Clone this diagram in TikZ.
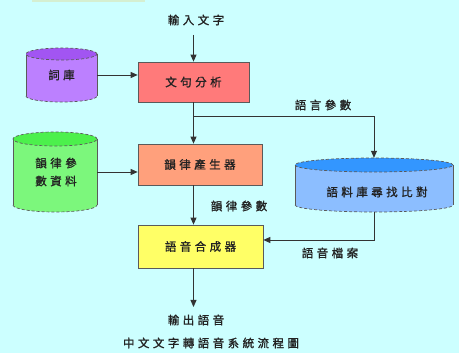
\documentclass[tikz,border=0pt]{standalone}
\usepackage{fontspec}
\setmainfont{Noto Sans CJK TC}[LetterSpace=30, FakeBold=1.2]
\usetikzlibrary{arrows.meta}
\definecolor{bg}{HTML}{CCFFFF}
\definecolor{boxred}{HTML}{FF7A7A}
\definecolor{boxorange}{HTML}{FFA07C}
\definecolor{boxyellow}{HTML}{FFFF66}
\definecolor{purpbody}{HTML}{BC80FF}
\definecolor{purptop}{HTML}{A255F2}
\definecolor{greenbody}{HTML}{7CF77C}
\definecolor{greentop}{HTML}{4CF04C}
\definecolor{bluebody}{HTML}{8CBEFF}
\definecolor{bluetop}{HTML}{3396FF}
\definecolor{edgegray}{HTML}{5A5A5A}
\definecolor{txt}{HTML}{222222}
\newcommand\mycyl[8]{%
  \fill[#8] (#2-#5,#3-#6) -- (#2-#5,#4+#6) arc[start angle=180,end angle=360,x radius=#5,y radius=#6] -- (#2+#5,#3-#6) -- cycle;
  \draw[cylline, densely dashed] (#2-#5,#4+#6) arc[start angle=180,end angle=360,x radius=#5,y radius=#6];
  \draw[cylline] (#2-#5,#3-#6) -- (#2-#5,#4+#6) (#2+#5,#4+#6) -- (#2+#5,#3-#6);
  \filldraw[fill=#7, cylline, densely dashed] (#2,#3-#6) ellipse[x radius=#5,y radius=#6];
  \node[name=#1, inner sep=0pt, minimum width=2*#5, minimum height=#3-#4] at (#2,{(#3+#4)/2}) {};
}
\begin{document}
\begin{tikzpicture}[x=1pt,y=1pt,
  font=\fontsize{11.5}{18}\selectfont, text=txt,
  procbox/.style={draw=edgegray, line width=0.7pt, inner sep=0pt},
  cylline/.style={draw=edgegray, line width=0.7pt},
  arr/.style={draw=black!80, line width=0.8pt, -{Triangle[length=7pt,width=6pt]}},
  lbl/.style={inner sep=0pt}]
\useasboundingbox (0,0) rectangle (459,353);
\fill[bg] (0,0) rectangle (459,353);
\fill[yellow!18!bg] (32,351) rectangle (145,353);

% process boxes
\node[procbox, fill=boxred, minimum width=111, minimum height=40] (fx) at (193.5,271) {文句分析};
\node[procbox, fill=boxorange, minimum width=124, minimum height=41] (yunlv) at (200,188.5) {韻律產生器};
\node[procbox, fill=boxyellow, minimum width=125, minimum height=43] (synth) at (200.5,106.5) {語音合成器};

% cylinders
\mycyl{ciku}{61.5}{305}{251}{35.5}{6}{purptop}{purpbody}
\node[lbl] at (ciku) {詞庫};
\mycyl{prosdata}{55}{221}{141}{42}{7}{greentop}{greenbody}
\node[lbl, align=center] at (56,181) {韻律參\\數資料};
\mycyl{corpus}{374}{195}{141}{79}{7}{bluetop}{bluebody}
\node[lbl] at (377,161) {語料庫尋找比對};

% text labels
\node[lbl] (in) at (196,333) {輸入文字};
\node[lbl] (out) at (196,33) {輸出語音};
\node[lbl] (lang) at (323,248) {語言參數};
\node[lbl] (pros) at (239,147) {韻律參數};
\node[lbl] (wav) at (330,100) {語音檔案};
\node[lbl] (cap) at (211,10) {中文文字轉語音系統流程圖};

\coordinate (br) at (193.5,237);
\coordinate (c2) at (374,113);
\coordinate (intop) at (193.5,318);
\coordinate (outend) at (193.5,46);

% connectors
\draw[arr] (intop) -- (fx.north);
\draw[arr] (ciku.east) -- (ciku.east -| fx.west);
\draw[arr] (fx.south) -- (fx.south |- yunlv.north);
\draw[arr] (br) -| (corpus.north);
\draw[arr] (prosdata.east) -- (prosdata.east -| yunlv.west);
\draw[arr] (yunlv.south -| fx.south) -- (synth.north -| fx.south);
\draw[arr] (corpus.south) -- (c2) -- (c2 -| synth.east);
\draw[arr] (synth.south -| fx.south) -- (outend);
\end{tikzpicture}
\end{document}
